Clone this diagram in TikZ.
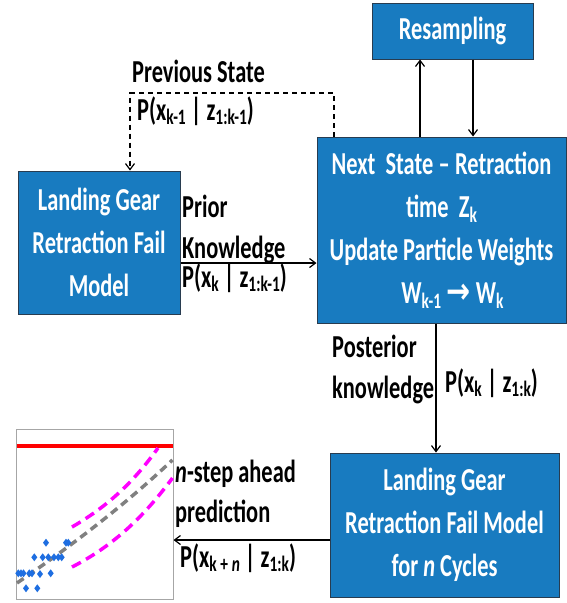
\documentclass[tikz,border=0pt]{standalone}
\usepackage{fontspec}
\setmainfont{Carlito}[FakeStretch=0.7]
\newfontfamily\djv{DejaVu Sans}[FakeStretch=0.8]
\usetikzlibrary{arrows.meta}
\definecolor{boxblue}{RGB}{24,123,192}
\definecolor{boxedge}{RGB}{40,60,80}
\definecolor{ptblue}{RGB}{30,110,225}
\definecolor{mag}{RGB}{255,0,255}
\definecolor{dgray}{RGB}{128,128,128}
\newcommand\lsub[1]{\raisebox{-0.3ex}{\fontsize{22}{22}\selectfont #1}}
\tikzset{
  blk/.style={draw=boxedge, line width=1pt, fill=boxblue, text=white, align=center,
    font=\fontsize{32}{43}\selectfont\bfseries, inner sep=0pt},
  lbl/.style={anchor=base west, inner sep=0pt, font=\fontsize{32}{43}\selectfont\bfseries},
  conn/.style={line width=1.3pt, -{Straight Barb[length=6pt,width=9pt,line width=1.2pt]}},
}
\begin{document}
\begin{tikzpicture}[x=1pt,y=-1pt]
\useasboundingbox (0,0) rectangle (567,603);
% boxes
\node[blk, minimum width=161pt, minimum height=56pt] (res) at (452.5,31) {Resampling};
\node[blk, minimum width=249pt, minimum height=186pt] (nxt) at (441.5,230)
  {Next\ \ State\,--\,Retraction\\ time\ \ Z\lsub{k}\\ Update Particle Weights\\ \hspace*{22pt}W\lsub{k-1}\,{\djv\bfseries\fontsize{36}{36}\selectfont →}\,W\lsub{k}};
\node[blk, minimum width=162pt, minimum height=143pt] (lg) at (99,242.5)
  {Landing Gear\\ Retraction Fail\\ Model};
\node[blk, minimum width=229pt, minimum height=144pt] (lgn) at (444.5,525)
  {Landing Gear\\ Retraction Fail Model\\ for \textit{n} Cycles};
% plot
\node[draw=gray!70, line width=1pt, minimum width=157pt, minimum height=170pt, inner sep=0pt] (plot) at (94.5,514) {};
\draw[red, line width=4pt] (16.5,446) -- (172.5,446);
\draw[dgray, line width=3.5pt, dash pattern=on 8pt off 5pt] (17,583) .. controls (80,540) and (130,500) .. (172.5,460);
\draw[mag, line width=3.5pt, dash pattern=on 10pt off 6pt] (72,527) .. controls (110,505) and (135,480) .. (158,448);
\draw[mag, line width=3.5pt, dash pattern=on 10pt off 6pt] (72,567) .. controls (115,545) and (145,515) .. (172.5,478);
\foreach \px/\py in {18.3/573.3,21/573.3,23.5/573.3,29.3/573.3,32/573.3,40/574,50.7/573.3,26/588.3,37.3/588.3,
  34.3/557.3,42.7/557.3,48.3/557.3,54/557.3,58.3/557.3,61.7/557.3,46/542.7,66/542.7,68.3/542.7}
  \fill[ptblue] (\px,\py-4) -- (\px+3,\py) -- (\px,\py+4) -- (\px-3,\py) -- cycle;
% connectors
\draw[conn] (nxt.north -| 420,0) -- (res.south -| 420,0);
\draw[conn] (res.south -| 473,0) -- (nxt.north -| 473,0);
\coordinate (d1) at (334,93);
\coordinate (d2) at (130,93);
\draw[conn, dash pattern=on 5pt off 4pt] (nxt.north -| d1) -- (d1) -- (d2) -- (lg.north -| d2);
\draw[conn] (lg.east |- 0,263) -- (nxt.west |- 0,263);
\draw[conn] (nxt.south -| 436,0) -- (lgn.north -| 436,0);
\draw[conn] (lgn.west |- 0,540) -- (plot.east |- 0,540);
% labels
\node[lbl] (prevs) at (132,82) {Previous State};
\node[lbl] (prevp) at (137,120) {P(x\lsub{k-1} | z\lsub{1:k-1})};
\node[lbl] (prior) at (182,217) {Prior};
\node[lbl] (know) at (182,258) {Knowledge};
\node[lbl] (priorp) at (182,287) {P(x\lsub{k} | z\lsub{1:k-1})};
\node[lbl] (post) at (332,357) {Posterior};
\node[lbl] (pknow) at (332,398) {knowledge};
\node[lbl] (postp) at (445,392) {P(x\lsub{k} | z\lsub{1:k})};
\node[lbl] (nstep) at (175,482) {\textit{n}-step ahead};
\node[lbl] (pred) at (175,522) {prediction};
\node[lbl] (predp) at (180,567) {P(x\lsub{k\,+\,\textit{n}} | z\lsub{1:k})};
\end{tikzpicture}
\end{document}
